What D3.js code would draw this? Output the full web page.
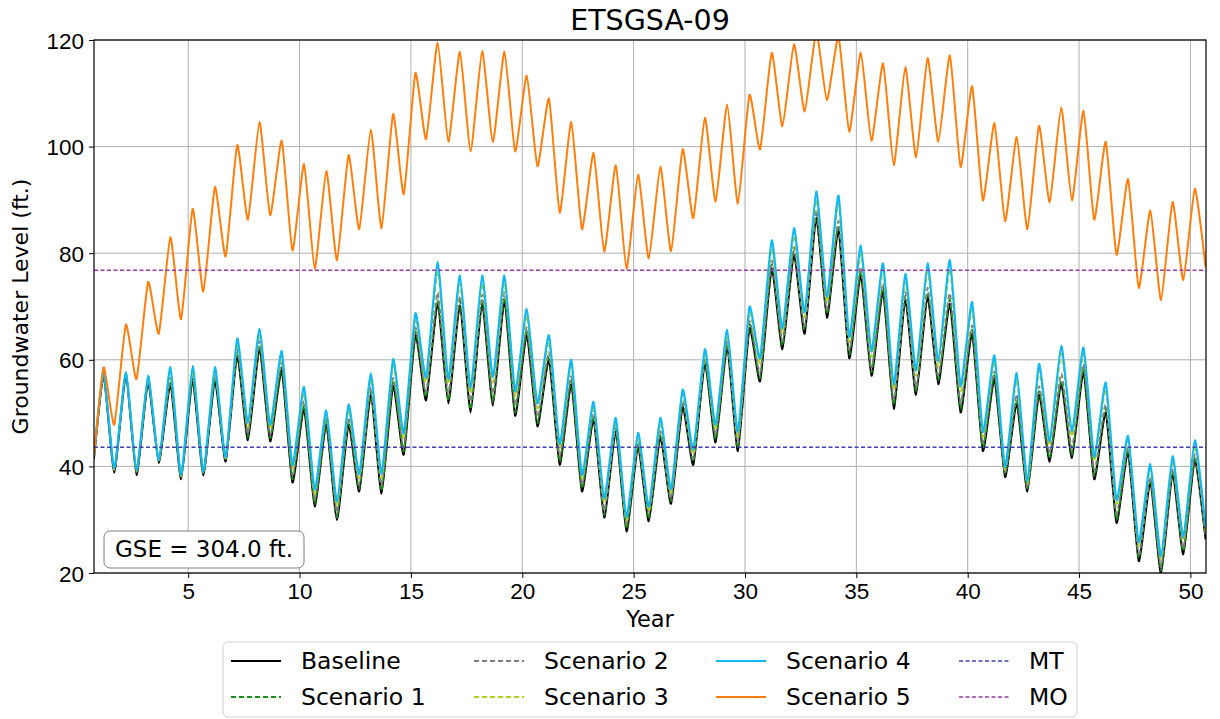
<!DOCTYPE html>
<html>
<head>
<meta charset="utf-8">
<script src="https://cdn.jsdelivr.net/npm/d3@7"></script>
<style>
  body { margin: 0; background: #fff; }
  svg { font-family: 'DejaVu Sans', sans-serif; }
</style>
</head>
<body>
<svg id="chart"></svg>
<script>
// seasonal high (spring) and low (fall) levels per simulation year, ft.
const years = d3.range(1, 51);
const startLevel = { baseline: 41.5, s1: 41.8, s2: 42, s3: 42, s4: 42, s5: 42 };

const baselineHi = [57.0, 57.0, 55.7, 55.4, 56.0, 56.0, 60.7, 62.0, 58.0, 50.8, 47.8, 47.8, 53.4, 55.1, 64.6, 70.5, 70.2, 70.5, 70.9, 64.6, 60.0, 55.4, 48.8, 46.5, 43.6, 45.5, 51.1, 59.3, 62.3, 65.9, 77.1, 79.7, 86.6, 84.3, 75.8, 72.8, 71.2, 71.8, 70.5, 64.9, 56.4, 51.8, 53.4, 55.4, 57.7, 50.1, 42.6, 37.0, 38.6, 41.2];
const baselineLo = [38.8, 38.4, 40.6, 37.6, 38.3, 40.9, 44.9, 44.7, 37.0, 32.5, 29.9, 35.3, 34.9, 42.2, 52.4, 51.8, 50.1, 51.4, 49.5, 47.5, 40.3, 35.3, 30.4, 27.8, 29.7, 33.0, 40.3, 44.5, 42.9, 56.0, 62.0, 64.9, 67.9, 60.3, 57.0, 50.8, 53.4, 55.4, 50.1, 42.9, 38.0, 35.3, 40.9, 41.6, 37.6, 29.4, 22.2, 19.9, 23.5, 26.3];

const s1Hi = [57.4, 57.4, 56.2, 55.9, 56.5, 56.5, 61.3, 62.6, 58.6, 51.4, 48.4, 48.4, 54.0, 55.8, 65.3, 71.3, 71.0, 71.3, 71.7, 65.4, 60.7, 56.1, 49.4, 47.1, 44.2, 46.1, 51.7, 60.0, 63.0, 66.6, 77.9, 80.5, 87.4, 85.1, 76.6, 73.6, 72.0, 72.6, 71.3, 65.7, 57.1, 52.5, 54.1, 56.1, 58.4, 50.8, 43.2, 37.6, 39.2, 41.8];
const s1Lo = [39.3, 38.9, 41.1, 38.1, 38.8, 41.4, 45.5, 45.3, 37.6, 33.0, 30.4, 35.8, 35.4, 42.8, 53.0, 52.4, 50.7, 52.0, 50.1, 48.1, 40.9, 35.9, 30.9, 28.3, 30.2, 33.5, 40.9, 45.1, 43.5, 56.6, 62.7, 65.6, 68.6, 61.0, 57.7, 51.5, 54.1, 56.1, 50.8, 43.5, 38.6, 35.9, 41.5, 42.2, 38.2, 30.0, 22.8, 20.5, 24.1, 26.9];

const s2Hi = [57.3, 57.3, 56.4, 56.6, 57.2, 57.2, 62.0, 63.5, 59.4, 52.3, 48.9, 49.2, 54.9, 56.6, 66.0, 72.6, 71.9, 72.2, 72.6, 66.1, 61.4, 56.9, 49.9, 47.4, 44.5, 46.6, 52.2, 60.2, 63.4, 67.2, 78.6, 81.1, 88.0, 86.0, 77.4, 74.3, 72.7, 73.5, 72.5, 66.4, 57.8, 53.5, 55.0, 57.4, 59.2, 51.6, 43.6, 38.0, 39.6, 42.3];
const s2Lo = [39.3, 39.0, 41.0, 38.2, 38.9, 41.5, 46.3, 46.0, 38.4, 33.8, 31.5, 36.6, 36.5, 43.6, 54.0, 53.8, 52.2, 53.6, 51.5, 49.3, 42.0, 36.6, 31.8, 29.1, 31.3, 34.0, 41.4, 45.9, 44.4, 57.6, 63.5, 66.3, 69.4, 62.0, 58.6, 52.5, 55.0, 57.1, 52.0, 44.3, 38.8, 36.0, 42.4, 43.5, 39.3, 31.2, 23.6, 21.1, 24.7, 27.2];

const s3Hi = [57.5, 57.5, 56.6, 57.6, 58.0, 57.8, 63.0, 64.8, 60.6, 53.7, 49.6, 50.6, 56.3, 58.9, 67.7, 76.6, 74.2, 74.3, 74.2, 68.2, 63.3, 58.8, 51.1, 48.2, 45.4, 48.1, 53.5, 61.0, 64.6, 68.8, 80.8, 83.3, 90.0, 89.3, 79.8, 76.6, 74.6, 76.6, 77.0, 69.4, 59.7, 56.2, 58.0, 61.1, 61.1, 54.5, 44.8, 39.5, 41.0, 43.8];
const s3Lo = [39.4, 39.1, 41.1, 38.1, 38.8, 41.5, 47.4, 47.0, 39.6, 34.9, 32.6, 37.8, 37.8, 45.3, 55.8, 55.5, 53.8, 55.8, 53.2, 50.9, 43.4, 37.7, 33.2, 29.8, 31.6, 34.9, 42.4, 47.0, 45.6, 59.4, 65.0, 68.0, 70.9, 63.4, 60.6, 54.4, 57.0, 58.7, 54.1, 45.6, 39.3, 36.7, 43.9, 45.6, 41.0, 33.0, 25.1, 22.6, 26.2, 28.0];

const s4Hi = [57.7, 57.7, 57.0, 58.6, 58.8, 58.6, 64.0, 65.8, 61.6, 54.9, 50.5, 51.6, 57.4, 60.1, 68.7, 78.4, 75.8, 75.8, 75.8, 69.5, 64.6, 60.0, 52.1, 49.1, 46.3, 49.1, 54.4, 62.0, 65.6, 69.9, 82.4, 84.7, 91.6, 90.8, 81.4, 78.1, 76.1, 78.1, 78.7, 70.8, 60.8, 57.5, 59.2, 62.6, 62.3, 55.7, 45.7, 40.4, 41.9, 44.9];
const s4Lo = [39.6, 39.3, 41.2, 38.3, 38.9, 41.7, 48.2, 47.8, 40.3, 35.7, 33.4, 38.6, 38.6, 46.2, 56.7, 56.4, 54.7, 56.7, 54.1, 51.8, 44.2, 38.4, 34.0, 30.5, 32.4, 35.7, 43.2, 47.8, 46.5, 60.3, 65.9, 68.9, 71.8, 64.3, 61.6, 55.4, 58.0, 59.7, 55.1, 46.5, 39.9, 37.3, 44.7, 46.5, 41.8, 33.7, 25.8, 23.2, 26.8, 28.6];

const s5Hi = [58.6, 66.6, 74.6, 83.0, 88.3, 92.4, 100.3, 104.6, 101.1, 96.7, 95.4, 98.4, 103.2, 106.1, 113.8, 119.5, 117.8, 117.9, 117.8, 113.3, 109.0, 104.6, 98.8, 96.5, 94.7, 96.2, 99.5, 105.4, 107.9, 109.7, 117.6, 119.2, 121.5, 120.6, 117.6, 115.6, 114.9, 116.6, 117.1, 111.3, 104.4, 101.8, 103.9, 107.4, 106.7, 100.9, 93.9, 88.0, 89.6, 92.1];
const s5Lo = [47.8, 56.4, 64.9, 67.6, 72.8, 79.4, 86.3, 87.1, 80.5, 77.1, 78.7, 84.5, 84.7, 91.1, 101.4, 100.9, 99.1, 100.8, 99.1, 96.3, 87.6, 84.5, 80.3, 77.1, 79.0, 80.4, 86.6, 89.7, 89.3, 99.5, 103.8, 106.6, 108.7, 102.8, 101.1, 96.5, 98.0, 100.9, 96.2, 89.9, 86.0, 84.5, 89.6, 89.9, 86.3, 79.7, 73.5, 71.2, 75.0, 77.4];

const mtLevel = 43.6;
const moLevel = 76.8;

const xTicks = [5, 10, 15, 20, 25, 30, 35, 40, 45, 50];
const yTicks = [20, 40, 60, 80, 100, 120];

const series = [
  { key: 'baseline', name: 'Baseline', hi: baselineHi, lo: baselineLo, color: '#000000', dash: null, width: 2 },
  { key: 's1', name: 'Scenario 1', hi: s1Hi, lo: s1Lo, color: '#1a8a1a', dash: '5,3', width: 1.8 },
  { key: 's2', name: 'Scenario 2', hi: s2Hi, lo: s2Lo, color: '#7f7f7f', dash: '5,3', width: 1.8 },
  { key: 's3', name: 'Scenario 3', hi: s3Hi, lo: s3Lo, color: '#b5d020', dash: '5,3', width: 1.8 },
  { key: 's4', name: 'Scenario 4', hi: s4Hi, lo: s4Lo, color: '#12b8f0', dash: null, width: 2.2 },
  { key: 's5', name: 'Scenario 5', hi: s5Hi, lo: s5Lo, color: '#ff7f0e', dash: null, width: 2 }
];

const W = 1220, H = 719;
const margin = { top: 40, right: 14, bottom: 146, left: 94 };
const width = W - margin.left - margin.right;
const height = H - margin.top - margin.bottom;

const svg = d3.select('#chart').attr('width', W).attr('height', H);
const g = svg.append('g').attr('transform', `translate(${margin.left},${margin.top})`);

const x = d3.scaleLinear().domain([0.77, 50.7]).range([0, width]);
const y = d3.scaleLinear().domain([20, 120]).range([height, 0]);

// grid
g.append('g')
  .selectAll('line')
  .data(xTicks)
  .join('line')
  .attr('x1', (d) => x(d)).attr('x2', (d) => x(d))
  .attr('y1', 0).attr('y2', height)
  .attr('stroke', '#b0b0b0').attr('stroke-width', 1);
g.append('g')
  .selectAll('line')
  .data(yTicks)
  .join('line')
  .attr('x1', 0).attr('x2', width)
  .attr('y1', (d) => y(d)).attr('y2', (d) => y(d))
  .attr('stroke', '#b0b0b0').attr('stroke-width', 1);

svg.append('defs').append('clipPath').attr('id', 'plot-clip')
  .append('rect').attr('width', width).attr('height', height);

const line = d3.line()
  .x((d) => x(d.t))
  .y((d) => y(d.v))
  .curve(d3.curveCardinal.tension(0.5));

function points(s) {
  const pts = [{ t: 0.77, v: startLevel[s.key] }];
  years.forEach((yr, i) => {
    pts.push({ t: yr + 0.2, v: s.hi[i] });
    pts.push({ t: yr + 0.68, v: s.lo[i] });
  });
  return pts;
}

const plot = g.append('g').attr('clip-path', 'url(#plot-clip)');

series.forEach((s) => {
  plot.append('path')
    .datum(points(s))
    .attr('d', line)
    .attr('fill', 'none')
    .attr('stroke', s.color)
    .attr('stroke-width', s.width)
    .attr('stroke-dasharray', s.dash)
    .attr('stroke-linejoin', 'round');
});

const refLines = [
  { name: 'MT', value: mtLevel, color: '#3f3fb0' },
  { name: 'MO', value: moLevel, color: '#9a3aa8' }
];
refLines.forEach((r) => {
  plot.append('line')
    .attr('x1', 0).attr('x2', width)
    .attr('y1', y(r.value)).attr('y2', y(r.value))
    .attr('stroke', r.color)
    .attr('stroke-width', 1.5)
    .attr('stroke-dasharray', '4,2.5');
});

// axes
const xAxis = g.append('g')
  .attr('transform', `translate(0,${height})`)
  .call(d3.axisBottom(x).tickValues(xTicks).tickSize(5).tickPadding(5));
const yAxis = g.append('g')
  .call(d3.axisLeft(y).tickValues(yTicks).tickSize(5).tickPadding(5));
[xAxis, yAxis].forEach((a) => {
  a.select('.domain').remove();
  a.selectAll('.tick line').attr('stroke', '#000').attr('stroke-width', 1);
  a.selectAll('text').style('font-size', '22.5px').attr('fill', '#000');
});
yAxis.selectAll('text').attr('dy', '0.36em');

g.append('rect')
  .attr('width', width).attr('height', height)
  .attr('fill', 'none').attr('stroke', '#000').attr('stroke-width', 1.2);

// labels
svg.append('text')
  .attr('x', margin.left + width / 2).attr('y', 30)
  .attr('text-anchor', 'middle')
  .style('font-size', '28.5px')
  .text('ETSGSA-09');

svg.append('text')
  .attr('x', margin.left + width / 2).attr('y', 627)
  .attr('text-anchor', 'middle')
  .style('font-size', '22.5px')
  .text('Year');

svg.append('text')
  .attr('transform', `translate(28,${margin.top + height / 2}) rotate(-90)`)
  .attr('text-anchor', 'middle')
  .style('font-size', '22px')
  .text('Groundwater Level (ft.)');

// GSE box
const gse = g.append('g').attr('transform', `translate(10,${height - 42})`);
gse.append('rect')
  .attr('width', 200).attr('height', 37)
  .attr('rx', 6).attr('ry', 6)
  .attr('fill', '#fff').attr('stroke', '#808080').attr('stroke-width', 1);
gse.append('text')
  .attr('x', 100).attr('y', 26)
  .attr('text-anchor', 'middle')
  .style('font-size', '23px')
  .text('GSE = 304.0 ft.');

// legend
const legendItems = series.map((s) => ({ name: s.name, color: s.color, dash: s.dash, width: s.width }))
  .concat(refLines.map((r) => ({ name: r.name, color: r.color, dash: '4,2.5', width: 1.5 })));
const colX = [231, 474, 716, 959];
const rowY = [661, 697];

const legend = svg.append('g');
legend.append('rect')
  .attr('x', 223).attr('y', 642)
  .attr('width', 854).attr('height', 75)
  .attr('rx', 5).attr('ry', 5)
  .attr('fill', '#fff').attr('stroke', '#d0d0d0').attr('stroke-width', 1);

legendItems.forEach((item, i) => {
  const cx = colX[Math.floor(i / 2)];
  const cy = rowY[i % 2];
  legend.append('line')
    .attr('x1', cx).attr('x2', cx + 50)
    .attr('y1', cy).attr('y2', cy)
    .attr('stroke', item.color)
    .attr('stroke-width', item.width)
    .attr('stroke-dasharray', item.dash);
  legend.append('text')
    .attr('x', cx + 70).attr('y', cy)
    .attr('dy', '0.36em')
    .style('font-size', '23.5px')
    .text(item.name);
});
</script>
</body>
</html>
